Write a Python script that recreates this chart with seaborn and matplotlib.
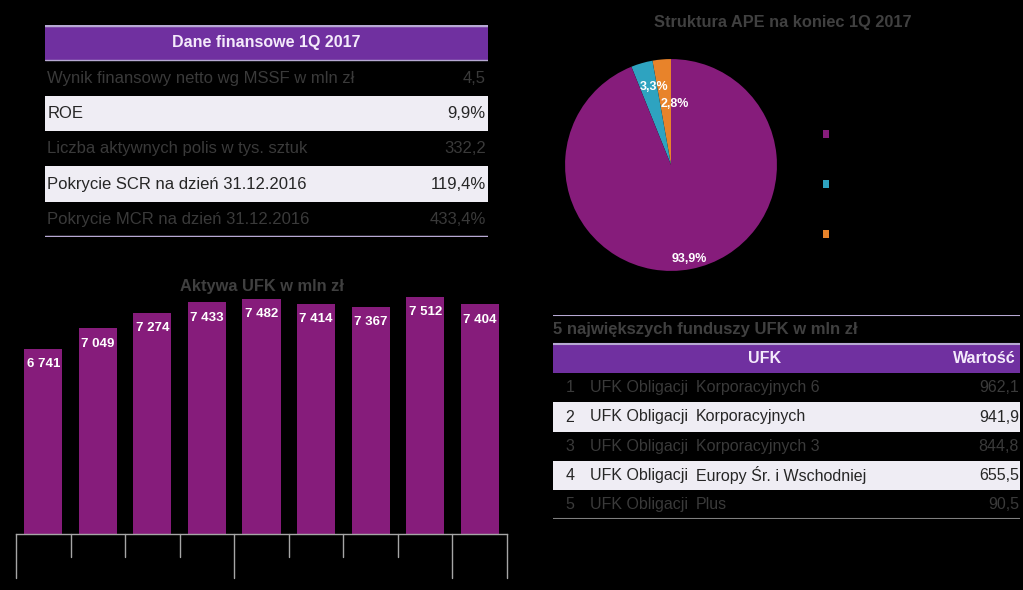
import numpy as np
import pandas as pd
import seaborn as sns
import matplotlib.pyplot as plt

sns.set_theme(style="white")
plt.rcParams['font.family'] = ['Liberation Sans', 'DejaVu Sans']

# --- data ---
fin_title = 'Dane finansowe 1Q 2017'
fin_labels = ['Wynik finansowy netto wg MSSF w mln zł', 'ROE',
              'Liczba aktywnych polis w tys. sztuk',
              'Pokrycie SCR na dzień 31.12.2016',
              'Pokrycie MCR na dzień 31.12.2016']
fin_values = ['4,5', '9,9%', '332,2', '119,4%', '433,4%']

pie_title = 'Struktura APE na koniec 1Q 2017'
pie_shares = [2.8, 3.3, 93.9]
pie_labels = [' ', ' ', ' ']

bar_title = 'Aktywa UFK w mln zł'
bar_quarters = ['I', 'II', 'III', 'IV', 'I ', 'II ', 'III ', 'IV ', 'I  ']
bar_years = ['2015', '2016', '2017']
bar_group_sizes = [4, 4, 1]
bar_values = [6741, 7049, 7274, 7433, 7482, 7414, 7367, 7512, 7404]

top_title = '5 największych funduszy UFK w mln zł'
top_head = ['UFK', 'Wartość']
top_rank = ['1', '2', '3', '4', '5']
top_fund = ['Korporacyjnych 6', 'Korporacyjnych', 'Korporacyjnych 3',
            'Europy Śr. i Wschodniej', 'Plus']
top_value = ['962,1', '941,9', '844,8', '655,5', '90,5']

# --- style ---
BG = 'black'
PURPLE_HEAD = '#7030A0'
BAR = '#861C7B'
PIE_COLORS = ['#E8832A', '#2EA3C0', '#861C7B']
LIGHT_ROW = '#EFEDF4'
LINE = '#B7A9D3'
DIM_TEXT = '#3A3A3A'
DARK_TEXT = '#262626'
TITLE_GRAY = '#404040'
HEAD_TEXT = '#F4EAFB'

W, H = 1023, 590
fig = plt.figure(figsize=(W / 100, H / 100), dpi=100, facecolor=BG)


def px_axes(x0, y0, x1, y1):
    return fig.add_axes([x0 / W, 1 - y1 / H, (x1 - x0) / W, (y1 - y0) / H])


# --- financial table ---
ax = px_axes(45, 25, 488, 237)
ax.set_facecolor(BG)
n = len(fin_labels)
ax.set_xlim(0, 1)
ax.set_ylim(n + 0.5, -0.5)
ax.axis('off')
ax.axhspan(-0.5, 0.5, color=PURPLE_HEAD, lw=0)
ax.text(0.5, 0, fin_title, ha='center', va='center', color=HEAD_TEXT,
        fontsize=11.5, fontweight='bold')
for i, (lab, val) in enumerate(zip(fin_labels, fin_values), start=1):
    light = i % 2 == 0
    if light:
        ax.axhspan(i - 0.5, i + 0.5, color=LIGHT_ROW, lw=0)
    c = DARK_TEXT if light else DIM_TEXT
    ax.text(0.005, i, lab, ha='left', va='center', color=c, fontsize=12)
    ax.text(0.995, i, val, ha='right', va='center', color=c, fontsize=12)
ax.axhline(-0.5, color=LINE, lw=2.5)
ax.axhline(0.5, color=LINE, lw=1)
ax.axhline(n + 0.5, color=LINE, lw=2.5)

# --- pie ---
ax = px_axes(564, 58, 778, 272)
ax.set_facecolor(BG)
wedges, _ = ax.pie(pie_shares, colors=PIE_COLORS, startangle=90,
                   counterclock=True, radius=1,
                   wedgeprops=dict(linewidth=0))
ax.set_xlim(-1.01, 1.01)
ax.set_ylim(-1.01, 1.01)
ax.set_aspect('equal')
label_dist = [0.58, 0.75, 0.9]
label_turn = [-9, -4, 0]
for w, s, d, t in zip(wedges, pie_shares, label_dist, label_turn):
    ang = np.deg2rad((w.theta1 + w.theta2) / 2 + t)
    ax.text(d * np.cos(ang), d * np.sin(ang), f'{s:.1f}%'.replace('.', ','),
            ha='center', va='center', color='white', fontsize=9,
            fontweight='bold')
fig.text(783 / W, 1 - 22 / H, pie_title, ha='center', va='center',
         color=TITLE_GRAY, fontsize=11.8, fontweight='bold')
fig.legend(wedges[::-1], pie_labels, loc='upper left',
           bbox_to_anchor=(810 / W, 1 - 115 / H), frameon=False,
           fontsize=10, labelcolor='black', handlelength=0.5,
           handleheight=0.5, labelspacing=2.6)

# --- bar chart ---
ax = px_axes(16, 275, 507, 534)
ax.set_facecolor(BG)
df = pd.DataFrame({'q': bar_quarters, 'v': bar_values})
sns.barplot(data=df, x='q', y='v', color=BAR, width=0.7, saturation=1,
            edgecolor=BAR, linewidth=0, ax=ax)
ax.set_xlim(-0.5, len(bar_values) - 0.5)
ax.set_ylim(4000, 7840)
ax.set_yticks([])
ax.set_xlabel('')
ax.set_ylabel('')
for s in ['top', 'left', 'right']:
    ax.spines[s].set_visible(False)
ax.spines['bottom'].set_color('#A6A6A6')
ax.spines['bottom'].set_linewidth(1)
ax.tick_params(axis='x', length=0, colors='black', labelsize=9)
for i, v in enumerate(bar_values):
    ax.annotate(f'{v:,}'.replace(',', ' '), (i, v), xytext=(0, -11),
                textcoords='offset points', ha='center', va='center',
                color='white', fontsize=9.5, fontweight='bold')
trans = ax.get_xaxis_transform()
edges = np.concatenate([[0], np.cumsum(bar_group_sizes)]) - 0.5
for b in np.arange(-0.5, len(bar_values)):
    depth = -0.17 if b in edges else -0.09
    ax.plot([b, b], [0, depth], color='#A6A6A6', lw=1, transform=trans,
            clip_on=False)
for k, yr in enumerate(bar_years):
    ax.text((edges[k] + edges[k + 1]) / 2, -0.13, yr, transform=trans,
            ha='center', va='center', color='black', fontsize=9)
fig.text(262 / W, 1 - 286 / H, bar_title, ha='center', va='center',
         color=TITLE_GRAY, fontsize=11.8, fontweight='bold')

# --- top funds table ---
ax = px_axes(553, 315, 1020, 519)
ax.set_facecolor(BG)
m = len(top_rank)
ax.set_xlim(0, 1)
ax.set_ylim(m + 1.5, -0.5)
ax.axis('off')
ax.text(0.0, 0, top_title, ha='left', va='center', color=TITLE_GRAY,
        fontsize=12, fontweight='bold')
ax.axhspan(0.5, 1.5, color=PURPLE_HEAD, lw=0)
ax.text(0.452, 1, top_head[0], ha='center', va='center', color=HEAD_TEXT,
        fontsize=11.5, fontweight='bold')
ax.text(0.99, 1, top_head[1], ha='right', va='center', color=HEAD_TEXT,
        fontsize=11.5, fontweight='bold')
for j, (r, f, v) in enumerate(zip(top_rank, top_fund, top_value)):
    y = j + 2
    light = j % 2 == 1
    if light:
        ax.axhspan(y - 0.5, y + 0.5, color=LIGHT_ROW, lw=0)
    c = DARK_TEXT if light else DIM_TEXT
    ax.text(0.036, y, r, ha='center', va='center', color=c, fontsize=11.5)
    ax.text(0.079, y, 'UFK Obligacji', ha='left', va='center', color=c,
            fontsize=11.5)
    ax.text(0.306, y, f, ha='left', va='center', color=c, fontsize=11.5)
    ax.text(0.998, y, v, ha='right', va='center', color=c, fontsize=11.5)
ax.axhline(-0.5, color=LINE, lw=1.5)
ax.axhline(0.5, color=LINE, lw=1.5)
ax.axhline(m + 1.5, color='#7F7F7F', lw=1.5)

fig.savefig('out.png', dpi=100, facecolor=BG)
